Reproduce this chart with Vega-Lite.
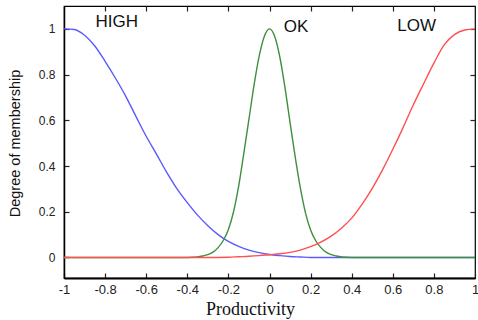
{
  "$schema": "https://vega.github.io/schema/vega-lite/v6.json",
  "width": 411,
  "height": 272,
  "autosize": "none",
  "padding": {"left": 64, "top": 6, "right": 3, "bottom": 42},
  "background": "white",
  "datasets": {
    "curves": [
      {"set": "HIGH", "x": -1.0, "y": 1.0},
      {"set": "HIGH", "x": -0.95, "y": 0.997},
      {"set": "HIGH", "x": -0.9, "y": 0.972},
      {"set": "HIGH", "x": -0.85, "y": 0.925},
      {"set": "HIGH", "x": -0.8, "y": 0.858},
      {"set": "HIGH", "x": -0.75, "y": 0.785},
      {"set": "HIGH", "x": -0.7, "y": 0.706},
      {"set": "HIGH", "x": -0.65, "y": 0.617},
      {"set": "HIGH", "x": -0.6, "y": 0.53},
      {"set": "HIGH", "x": -0.55, "y": 0.452},
      {"set": "HIGH", "x": -0.5, "y": 0.372},
      {"set": "HIGH", "x": -0.45, "y": 0.3},
      {"set": "HIGH", "x": -0.4, "y": 0.24},
      {"set": "HIGH", "x": -0.35, "y": 0.185},
      {"set": "HIGH", "x": -0.3, "y": 0.139},
      {"set": "HIGH", "x": -0.25, "y": 0.1},
      {"set": "HIGH", "x": -0.2, "y": 0.07},
      {"set": "HIGH", "x": -0.15, "y": 0.048},
      {"set": "HIGH", "x": -0.1, "y": 0.032},
      {"set": "HIGH", "x": -0.05, "y": 0.021},
      {"set": "HIGH", "x": 0.0, "y": 0.013},
      {"set": "HIGH", "x": 0.05, "y": 0.008},
      {"set": "HIGH", "x": 0.1, "y": 0.004},
      {"set": "HIGH", "x": 0.15, "y": 0.002},
      {"set": "HIGH", "x": 0.2, "y": 0.0},
      {"set": "HIGH", "x": 0.6, "y": 0.0},
      {"set": "HIGH", "x": 1.0, "y": 0.0},

      {"set": "OK", "x": -1.0, "y": 0.0},
      {"set": "OK", "x": -0.6, "y": 0.0},
      {"set": "OK", "x": -0.4, "y": 0.0},
      {"set": "OK", "x": -0.35, "y": 0.002},
      {"set": "OK", "x": -0.325, "y": 0.006},
      {"set": "OK", "x": -0.3, "y": 0.012},
      {"set": "OK", "x": -0.275, "y": 0.023},
      {"set": "OK", "x": -0.25, "y": 0.043},
      {"set": "OK", "x": -0.225, "y": 0.074},
      {"set": "OK", "x": -0.2, "y": 0.122},
      {"set": "OK", "x": -0.175, "y": 0.2},
      {"set": "OK", "x": -0.15, "y": 0.312},
      {"set": "OK", "x": -0.125, "y": 0.455},
      {"set": "OK", "x": -0.1, "y": 0.605},
      {"set": "OK", "x": -0.075, "y": 0.755},
      {"set": "OK", "x": -0.05, "y": 0.882},
      {"set": "OK", "x": -0.025, "y": 0.968},
      {"set": "OK", "x": 0.0, "y": 1.0},
      {"set": "OK", "x": 0.025, "y": 0.968},
      {"set": "OK", "x": 0.05, "y": 0.878},
      {"set": "OK", "x": 0.075, "y": 0.745},
      {"set": "OK", "x": 0.1, "y": 0.59},
      {"set": "OK", "x": 0.125, "y": 0.44},
      {"set": "OK", "x": 0.15, "y": 0.305},
      {"set": "OK", "x": 0.175, "y": 0.195},
      {"set": "OK", "x": 0.2, "y": 0.12},
      {"set": "OK", "x": 0.225, "y": 0.073},
      {"set": "OK", "x": 0.25, "y": 0.043},
      {"set": "OK", "x": 0.275, "y": 0.023},
      {"set": "OK", "x": 0.3, "y": 0.012},
      {"set": "OK", "x": 0.325, "y": 0.006},
      {"set": "OK", "x": 0.35, "y": 0.002},
      {"set": "OK", "x": 0.4, "y": 0.0},
      {"set": "OK", "x": 0.6, "y": 0.0},
      {"set": "OK", "x": 1.0, "y": 0.0},

      {"set": "LOW", "x": -1.0, "y": 0.0},
      {"set": "LOW", "x": -0.6, "y": 0.0},
      {"set": "LOW", "x": -0.3, "y": 0.0},
      {"set": "LOW", "x": -0.2, "y": 0.001},
      {"set": "LOW", "x": -0.15, "y": 0.003},
      {"set": "LOW", "x": -0.1, "y": 0.005},
      {"set": "LOW", "x": -0.05, "y": 0.008},
      {"set": "LOW", "x": 0.0, "y": 0.012},
      {"set": "LOW", "x": 0.05, "y": 0.016},
      {"set": "LOW", "x": 0.1, "y": 0.022},
      {"set": "LOW", "x": 0.15, "y": 0.032},
      {"set": "LOW", "x": 0.2, "y": 0.047},
      {"set": "LOW", "x": 0.25, "y": 0.067},
      {"set": "LOW", "x": 0.3, "y": 0.093},
      {"set": "LOW", "x": 0.35, "y": 0.128},
      {"set": "LOW", "x": 0.4, "y": 0.172},
      {"set": "LOW", "x": 0.45, "y": 0.232},
      {"set": "LOW", "x": 0.5, "y": 0.302},
      {"set": "LOW", "x": 0.55, "y": 0.383},
      {"set": "LOW", "x": 0.6, "y": 0.473},
      {"set": "LOW", "x": 0.65, "y": 0.568},
      {"set": "LOW", "x": 0.7, "y": 0.668},
      {"set": "LOW", "x": 0.75, "y": 0.76},
      {"set": "LOW", "x": 0.8, "y": 0.85},
      {"set": "LOW", "x": 0.85, "y": 0.93},
      {"set": "LOW", "x": 0.9, "y": 0.975},
      {"set": "LOW", "x": 0.95, "y": 0.995},
      {"set": "LOW", "x": 1.0, "y": 1.0}
    ],
    "tags": [
      {"label": "HIGH", "x": -0.743, "y": 1.028},
      {"label": "OK", "x": 0.129, "y": 1.01},
      {"label": "LOW", "x": 0.716, "y": 1.012}
    ]
  },
  "config": {
    "view": {"stroke": "#000", "strokeWidth": 1.2},
    "axis": {
      "grid": false,
      "labelFont": "Liberation Sans",
      "labelColor": "#222",
      "tickColor": "#222",
      "tickWidth": 1.2,
      "domainColor": "#000",
      "titleColor": "#111"
    }
  },
  "layer": [
    {
      "data": {"name": "curves"},
      "mark": {"type": "line", "strokeWidth": 1.4, "interpolate": "monotone"},
      "encoding": {
        "x": {
          "field": "x",
          "type": "quantitative",
          "scale": {"domain": [-1, 1], "nice": false, "zero": false},
          "axis": {
            "orient": "bottom",
            "values": [-1, -0.8, -0.6, -0.4, -0.2, 0, 0.2, 0.4, 0.6, 0.8, 1],
            "labelExpr": "'' + datum.value",
            "labelFontSize": 13,
            "labelPadding": 10,
            "tickSize": -5,
            "domainWidth": 2.2,
            "labelFlush": false,
            "labelOverlap": false,
            "title": "Productivity",
            "titleFont": "Liberation Serif",
            "titleFontSize": 18,
            "titleFontWeight": "normal",
            "titleX": 186,
            "titleY": 36,
            "titleAlign": "center",
            "titleBaseline": "alphabetic"
          }
        },
        "y": {
          "field": "y",
          "type": "quantitative",
          "scale": {"domain": [-0.09, 1.1], "nice": false, "zero": false},
          "axis": {
            "orient": "left",
            "values": [0, 0.2, 0.4, 0.6, 0.8, 1],
            "labelExpr": "'' + datum.value",
            "labelFontSize": 12,
            "labelPadding": 14,
            "tickSize": -5,
            "domainWidth": 1.5,
            "labelFlush": false,
            "labelOverlap": false,
            "title": "Degree of membership",
            "titleFont": "Liberation Sans",
            "titleFontSize": 14.5,
            "titleFontWeight": "normal",
            "titleAngle": -90,
            "titleX": -49,
            "titleY": 137,
            "titleAlign": "center",
            "titleBaseline": "middle"
          }
        },
        "color": {
          "field": "set",
          "type": "nominal",
          "scale": {"domain": ["HIGH", "OK", "LOW"], "range": ["#5a5aff", "#3e8f3e", "#ff4f4f"]},
          "legend": null
        }
      }
    },
    {
      "data": {"name": "tags"},
      "mark": {"type": "text", "font": "Liberation Sans", "fontSize": 17, "color": "#111", "align": "center", "baseline": "middle"},
      "encoding": {
        "x": {
          "field": "x",
          "type": "quantitative",
          "axis": {
            "orient": "top",
            "values": [-0.8, -0.6, -0.4, -0.2, 0, 0.2, 0.4, 0.6, 0.8],
            "labels": false,
            "tickSize": -5,
            "domain": false,
            "title": null
          }
        },
        "y": {
          "field": "y",
          "type": "quantitative",
          "axis": {
            "orient": "right",
            "values": [0.2, 0.4, 0.6, 0.8, 1],
            "labels": false,
            "tickSize": -5,
            "domain": false,
            "title": null
          }
        },
        "text": {"field": "label"}
      }
    }
  ],
  "resolve": {"axis": {"x": "independent", "y": "independent"}}
}
